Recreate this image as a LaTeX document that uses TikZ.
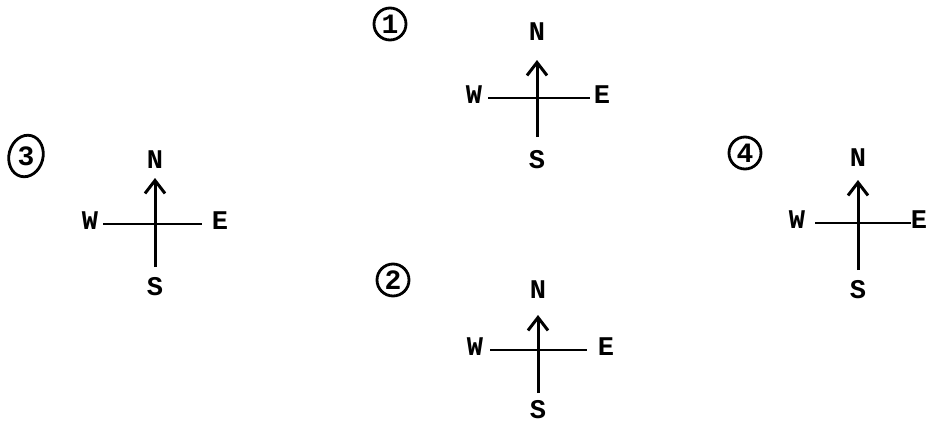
\documentclass[tikz,border=0pt]{standalone}
\usepackage{fontspec}
\newfontfamily\typewriter{Liberation Mono}
\usetikzlibrary{arrows.meta,shapes.geometric}
\begin{document}
\begin{tikzpicture}[x=0.5pt,y=-0.5pt,
  dirlabel/.style={font=\typewriter\bfseries\fontsize{13.5}{13.5}\selectfont, inner sep=0pt},
  crossbar/.style={line width=1.1pt},
  stem/.style={line width=1.5pt, -{Straight Barb[length=6.5pt,width=10pt]}},
  ringed/.style={circle, draw, line width=1.4pt, minimum size=16pt, inner sep=0pt,
    font=\typewriter\bfseries\fontsize{14}{14}\selectfont}]
\useasboundingbox (0,0) rectangle (928,423);

% compass roses: id / centre x / centre y / N y / tip y / foot y / bar left / bar right / W x / E x / S y
\foreach \i/\cx/\cy/\ny/\ty/\by/\lx/\rx/\wx/\ex/\sy in {
    1/537/98/32/60/137/488/590/474/602/160,
    2/538/350/290/315/393/490/587/475/606/410,
    3/155/224/160/178/267/103/202/90/220/287,
    4/858/223/158/180/270/815/911/797/919/290}{
  \node[dirlabel] (n\i) at (\cx,\ny) {N};
  \node[dirlabel] (s\i) at (\cx,\sy) {S};
  \node[dirlabel] (w\i) at (\wx,\cy-3) {W};
  \node[dirlabel] (e\i) at (\ex,\cy-3) {E};
  \coordinate (tip\i) at (\cx,\ty);
  \coordinate (foot\i) at (\cx,\by);
  \coordinate (west\i) at (\lx,\cy);
  \coordinate (east\i) at (\rx,\cy);
  \draw[crossbar] (west\i) -- (east\i);
  \draw[stem] (foot\i) -- (tip\i);
}

% circled figure numbers
\node[ringed] (num1) at (390,24) {1};
\node[ringed] (num2) at (393,280) {2};
\node[ringed] (num4) at (745,153) {4};
\node[ellipse, draw, line width=1.4pt, minimum width=17pt, minimum height=21pt, inner sep=0pt,
  rotate=-15, font=\typewriter\bfseries\fontsize{14}{14}\selectfont] (num3) at (26,156) {\rotatebox{15}{3}};
\end{tikzpicture}
\end{document}
